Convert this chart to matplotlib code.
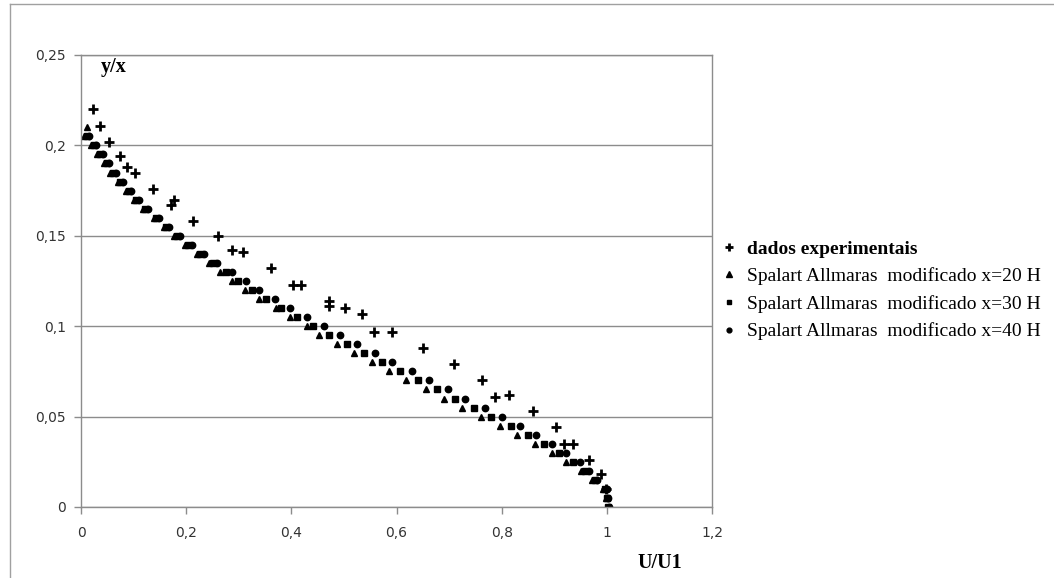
import matplotlib
matplotlib.use("Agg")
import matplotlib.pyplot as plt
from matplotlib.lines import Line2D

# experimental points (+)
exp_x = [0.023, 0.036, 0.053, 0.075, 0.087, 0.102, 0.136, 0.172, 0.177, 0.213,
         0.261, 0.287, 0.309, 0.361, 0.404, 0.418, 0.471, 0.471, 0.503, 0.534,
         0.557, 0.591, 0.650, 0.709, 0.762, 0.788, 0.813, 0.859, 0.903, 0.919,
         0.936, 0.966, 0.988, 0.999]
exp_y = [0.220, 0.211, 0.202, 0.194, 0.188, 0.185, 0.176, 0.167, 0.170, 0.158,
         0.150, 0.142, 0.141, 0.132, 0.123, 0.123, 0.114, 0.111, 0.110, 0.107,
         0.097, 0.097, 0.088, 0.079, 0.070, 0.061, 0.062, 0.053, 0.044, 0.035,
         0.035, 0.026, 0.018, 0.010]

# Spalart Allmaras levels
y_sa = [0.205, 0.2, 0.195, 0.19, 0.185, 0.18, 0.175, 0.17, 0.165, 0.16,
        0.155, 0.15, 0.145, 0.14, 0.135, 0.13, 0.125, 0.12, 0.115, 0.11,
        0.105, 0.1, 0.095, 0.09, 0.085, 0.08, 0.075, 0.07, 0.065, 0.06,
        0.055, 0.05, 0.045, 0.04, 0.035, 0.03, 0.025, 0.02, 0.015, 0.01,
        0.005, 0.0]
y_20 = [0.21] + y_sa

x_20 = [0.012, 0.006, 0.019, 0.031, 0.044, 0.056, 0.070, 0.086, 0.100, 0.117,
        0.138, 0.157, 0.177, 0.198, 0.220, 0.243, 0.264, 0.287, 0.312, 0.338,
        0.371, 0.397, 0.429, 0.453, 0.487, 0.520, 0.554, 0.586, 0.619, 0.656,
        0.691, 0.725, 0.760, 0.797, 0.830, 0.863, 0.895, 0.923, 0.950, 0.972,
        0.992, 0.998, 1.002]
x_30 = [0.011, 0.024, 0.036, 0.049, 0.061, 0.075, 0.091, 0.105, 0.122, 0.143,
        0.162, 0.183, 0.204, 0.226, 0.251, 0.276, 0.299, 0.325, 0.352, 0.380,
        0.410, 0.442, 0.472, 0.505, 0.538, 0.573, 0.607, 0.641, 0.677, 0.712,
        0.748, 0.779, 0.817, 0.850, 0.880, 0.909, 0.935, 0.958, 0.977, 0.996,
        1.000, 1.003]
x_40 = [0.016, 0.029, 0.041, 0.054, 0.066, 0.080, 0.096, 0.110, 0.127, 0.148,
        0.167, 0.189, 0.211, 0.234, 0.259, 0.287, 0.313, 0.339, 0.369, 0.397,
        0.430, 0.462, 0.492, 0.524, 0.559, 0.592, 0.629, 0.662, 0.697, 0.731,
        0.768, 0.800, 0.835, 0.865, 0.895, 0.923, 0.949, 0.966, 0.982, 1.000,
        1.002, 1.004]

labels = ["dados experimentais",
          "Spalart Allmaras  modificado x=20 H",
          "Spalart Allmaras  modificado x=30 H",
          "Spalart Allmaras  modificado x=40 H"]
x_ticks = [0, 0.2, 0.4, 0.6, 0.8, 1, 1.2]
x_ticklabels = ["0", "0,2", "0,4", "0,6", "0,8", "1", "1,2"]
y_ticks = [0, 0.05, 0.1, 0.15, 0.2, 0.25]
y_ticklabels = ["0", "0,05", "0,1", "0,15", "0,2", "0,25"]

grid_c = "#8c8c8c"
serif = ["Liberation Serif", "DejaVu Serif"]

fig = plt.figure(figsize=(10.54, 5.78), dpi=100)
ax = fig.add_axes([81 / 1054, 1 - 507 / 578, 631 / 1054, 452 / 578])

ax.plot(exp_x, exp_y, ls="none", marker="+", ms=7.5, mew=2, color="black", label=labels[0])
ax.plot(x_20, y_20, ls="none", marker="^", ms=5, color="black", label=labels[1])
ax.plot(x_30, y_sa, ls="none", marker="s", ms=4.2, color="black", label=labels[2])
ax.plot(x_40, y_sa, ls="none", marker="o", ms=4.6, color="black", label=labels[3])

ax.set_xlim(0, 1.2)
ax.set_ylim(0, 0.25)
ax.set_xticks(x_ticks)
ax.set_xticklabels(x_ticklabels)
ax.set_yticks(y_ticks)
ax.set_yticklabels(y_ticklabels)
ax.yaxis.grid(True, color=grid_c, lw=1)
ax.set_axisbelow(True)
for s in ax.spines.values():
    s.set_color(grid_c)
    s.set_linewidth(1)
ax.tick_params(axis="both", direction="out", length=5, width=1, color=grid_c,
               labelsize=10, labelcolor="#333333")
ax.tick_params(axis="y", pad=6)
ax.tick_params(axis="x", pad=9)

fig.text(114 / 1054, 1 - 67 / 578, "y/x", family=serif, weight="bold", fontsize=14.5,
         ha="center", va="center")
fig.text(660 / 1054, 1 - 563 / 578, "U/U1", family=serif, weight="bold", fontsize=14.5,
         ha="center", va="center")

leg = fig.legend(loc="upper left", bbox_to_anchor=(722 / 1054, 1 - 240 / 578),
                 frameon=False, prop={"family": serif, "size": 14},
                 handlelength=0.7, handletextpad=0.6, labelspacing=0.5,
                 borderaxespad=0, borderpad=0, markerscale=0.75)
leg.get_texts()[0].set_fontweight("bold")

# chart area border (top and left only visible)
fig.add_artist(Line2D([10 / 1054, 10 / 1054], [0, 1 - 4 / 578], transform=fig.transFigure,
                      color="#a0a0a0", lw=1))
fig.add_artist(Line2D([10 / 1054, 1], [1 - 4 / 578, 1 - 4 / 578], transform=fig.transFigure,
                      color="#a0a0a0", lw=1))

fig.savefig("out.png", dpi=100)
